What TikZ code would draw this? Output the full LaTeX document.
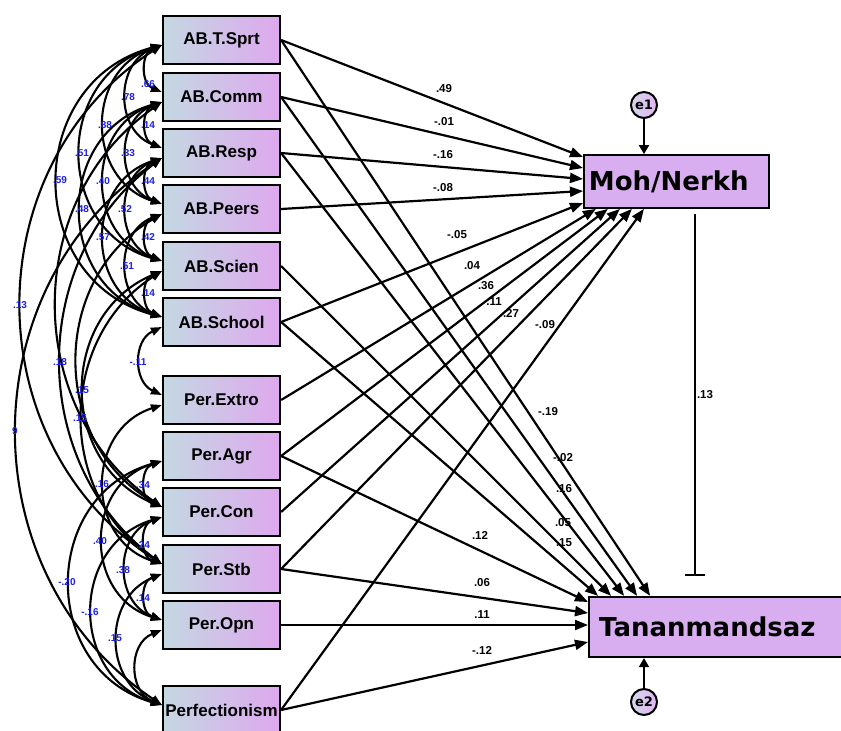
\documentclass[tikz,border=0pt]{standalone}
\usepackage{fontspec}
\setmainfont{Liberation Sans}
\newfontfamily\dejavu{DejaVu Sans}
\usetikzlibrary{arrows.meta}
\definecolor{boxL}{RGB}{196,216,226}
\definecolor{boxR}{RGB}{222,168,238}
\definecolor{endoC}{RGB}{216,174,240}
\definecolor{errL}{RGB}{214,214,236}
\definecolor{errR}{RGB}{224,180,240}
\definecolor{covblue}{RGB}{30,30,235}
\newcommand\covarc[3]{%
  \pgfmathsetmacro\covloose{0.8514/(cos(#3/2)^2)}%
  \draw[cov] ([yshift=-5pt]#1.west) to[bend right=#3, looseness=\covloose] ([yshift=5pt]#2.west);}
\tikzset{
  obs/.style={draw, line width=2.2pt, left color=boxL, right color=boxR,
    minimum width=117pt, minimum height=48pt, inner sep=0pt,
    font=\bfseries\fontsize{17}{20}\selectfont},
  endo/.style={draw, line width=1.8pt, fill=endoC, anchor=west, align=left,
    inner ysep=0pt, font=\dejavu\bfseries\fontsize{26}{30}\selectfont},
  errc/.style={circle, draw, line width=2pt, left color=errL, right color=errR,
    minimum size=26pt, inner sep=0pt, font=\dejavu\bfseries\fontsize{13}{15}\selectfont},
  reg/.style={line width=2.2pt, -{Triangle[length=13pt,width=10pt]}},
  errarr/.style={line width=2pt, -{Triangle[length=9pt,width=10pt]}},
  cov/.style={line width=2.1pt, {Triangle[length=11pt,width=8pt]}-{Triangle[length=11pt,width=8pt]}},
  coef/.style={inner sep=0pt, font=\bfseries\fontsize{11.5}{13}\selectfont},
  covl/.style={inner sep=0pt, text=covblue, font=\bfseries\fontsize{10}{12}\selectfont},
}
\begin{document}
\begin{tikzpicture}[x=1pt,y=-1pt]
\useasboundingbox (0,0) rectangle (841,731);
\fill[white] (0,0) rectangle (841,731);

% observed exogenous variables
\node[obs] (tsprt)  at (221.5,40)  {AB.T.Sprt};
\node[obs] (comm)   at (221.5,97)  {AB.Comm};
\node[obs] (resp)   at (221.5,153) {AB.Resp};
\node[obs] (peers)  at (221.5,209) {AB.Peers};
\node[obs] (scien)  at (221.5,266) {AB.Scien};
\node[obs] (school) at (221.5,322) {AB.School};
\node[obs] (extro)  at (221.5,400) {Per.Extro};
\node[obs] (agr)    at (221.5,456) {Per.Agr};
\node[obs] (con)    at (221.5,512) {Per.Con};
\node[obs] (stb)    at (221.5,569) {Per.Stb};
\node[obs] (opn)    at (221.5,625) {Per.Opn};
\node[obs] (perf)   at (221.5,710) {Perfectionism};

% endogenous variables
\node[endo, text width=175pt, inner xsep=5pt, minimum height=53pt] (moh) at (583,181.5) {Moh/Nerkh};
\node[endo, text width=250pt, inner xsep=10pt, minimum height=60pt, line width=2.2pt] (tan) at (588,627) {Tananmandsaz};

% errors
\node[errc] (e1) at (644,105) {e1};
\node[errc] (e2) at (644,702) {e2};
\draw[errarr] (e1) -- (e1 |- moh.north);
\draw[errarr] (e2) -- (e2 |- tan.south);

% covariances
\covarc{tsprt}{comm}{68}
\covarc{comm}{resp}{68}
\covarc{resp}{peers}{68}
\covarc{peers}{scien}{68}
\covarc{scien}{school}{68}
\covarc{tsprt}{resp}{69}
\covarc{comm}{peers}{69}
\covarc{resp}{scien}{69}
\covarc{peers}{school}{69}
\covarc{tsprt}{peers}{72}
\covarc{comm}{scien}{72}
\covarc{resp}{school}{72}
\covarc{tsprt}{scien}{74}
\covarc{comm}{school}{74}
\covarc{tsprt}{school}{75}
\covarc{tsprt}{stb}{57}
\covarc{comm}{con}{55}
\covarc{resp}{stb}{53}
\covarc{resp}{perf}{56}
\covarc{peers}{con}{60}
\covarc{scien}{con}{67}
\covarc{scien}{stb}{57}
\covarc{school}{extro}{65}
\covarc{agr}{con}{71}
\covarc{con}{stb}{71}
\covarc{stb}{opn}{71}
\covarc{con}{opn}{70}
\covarc{agr}{opn}{73}
\covarc{extro}{stb}{72}
\covarc{agr}{perf}{74}
\covarc{con}{perf}{73}
\covarc{stb}{perf}{68}
\covarc{opn}{perf}{68}

% regressions to Moh/Nerkh
\draw[reg] (tsprt.east)  -- ([yshift=24.5pt]moh.west);
\draw[reg] (comm.east)   -- ([yshift=13.5pt]moh.west);
\draw[reg] (resp.east)   -- ([yshift=2.5pt]moh.west);
\draw[reg] (peers.east)  -- ([yshift=-9.5pt]moh.west);
\draw[reg] (school.east) -- ([yshift=-21.5pt]moh.west);
\draw[reg] (extro.east)  -- ([xshift=-80.5pt]moh.south);
\draw[reg] (agr.east)    -- ([xshift=-68.5pt]moh.south);
\draw[reg] (con.east)    -- ([xshift=-56.5pt]moh.south);
\draw[reg] (stb.east)    -- ([xshift=-44.5pt]moh.south);
\draw[reg] (perf.east)   -- ([xshift=-32.5pt]moh.south);
% regressions to Tananmandsaz
\draw[reg] (tsprt.east)  -- ([xshift=-74pt]tan.north);
\draw[reg] (comm.east)   -- ([xshift=-87pt]tan.north);
\draw[reg] (resp.east)   -- ([xshift=-100pt]tan.north);
\draw[reg] (scien.east)  -- ([xshift=-113pt]tan.north);
\draw[reg] (school.east) -- ([xshift=-126pt]tan.north);
\draw[reg] (agr.east)    -- ([yshift=25pt]tan.west);
\draw[reg] (stb.east)    -- ([yshift=14pt]tan.west);
\draw[reg] (opn.east)    -- (opn.east -| tan.west);
\draw[reg] (perf.east)   -- ([yshift=-15pt]tan.west);
% Moh -> Tanan
\coordinate (bartop) at ([xshift=18.5pt,yshift=-5pt]moh.south);
\draw[line width=1.9pt, -{Bar[width=20pt,line width=1.9pt]}, shorten >=20pt] (bartop) -- (bartop |- tan.north);

% path coefficients
\node[coef] (l1)  at (444,89)  {.49};
\node[coef] (l2)  at (444,122) {-.01};
\node[coef] (l3)  at (443,155) {-.16};
\node[coef] (l4)  at (443,188) {-.08};
\node[coef] (l5)  at (457,235) {-.05};
\node[coef] (l6)  at (472,266) {.04};
\node[coef] (l7)  at (486,286) {.36};
\node[coef] (l8)  at (494,302) {.11};
\node[coef] (l9)  at (511,313) {.27};
\node[coef] (l10) at (545,325) {-.09};
\node[coef] (l11) at (548,412) {-.19};
\node[coef] (l12) at (563,458) {-.02};
\node[coef] (l13) at (564,489) {.16};
\node[coef] (l14) at (563,523) {.05};
\node[coef] (l15) at (564,543) {.15};
\node[coef] (l16) at (480,535) {.12};
\node[coef] (l17) at (482,583) {.06};
\node[coef] (l18) at (482,615) {.11};
\node[coef] (l19) at (482,650) {-.12};
\node[coef] (l20) at (705,395) {.13};

% covariance labels
\node[covl] (c1)  at (148,84)  {.66};
\node[covl] (c2)  at (148,125) {.14};
\node[covl] (c3)  at (148,181) {.44};
\node[covl] (c4)  at (148,237) {.42};
\node[covl] (c5)  at (148,293) {.14};
\node[covl] (c6)  at (128,97)  {.78};
\node[covl] (c7)  at (128,153) {.33};
\node[covl] (c8)  at (125,209) {.52};
\node[covl] (c9)  at (127,266) {.51};
\node[covl] (c10) at (105,125) {.88};
\node[covl] (c11) at (103,181) {.40};
\node[covl] (c12) at (103,237) {.57};
\node[covl] (c13) at (82,153)  {.51};
\node[covl] (c14) at (82,209)  {.48};
\node[covl] (c15) at (60,180)  {.59};
\node[covl] (c16) at (20,305)  {.13};
\node[covl] (c17) at (60,362)  {.18};
\node[covl] (c18) at (138,362) {-.11};
\node[covl] (c19) at (82,390)  {.15};
\node[covl] (c20) at (80,418)  {.15};
\node[covl] (c21) at (15,431)  {9};
\node[covl] (c22) at (102,484) {.16};
\node[covl] (c23) at (143,485) {.34};
\node[covl] (c24) at (100,541) {.40};
\node[covl] (c25) at (143,545) {.24};
\node[covl] (c26) at (123,570) {.38};
\node[covl] (c27) at (143,598) {.14};
\node[covl] (c28) at (67,582)  {-.20};
\node[covl] (c29) at (90,612)  {-.16};
\node[covl] (c30) at (115,638) {.15};
\end{tikzpicture}
\end{document}
